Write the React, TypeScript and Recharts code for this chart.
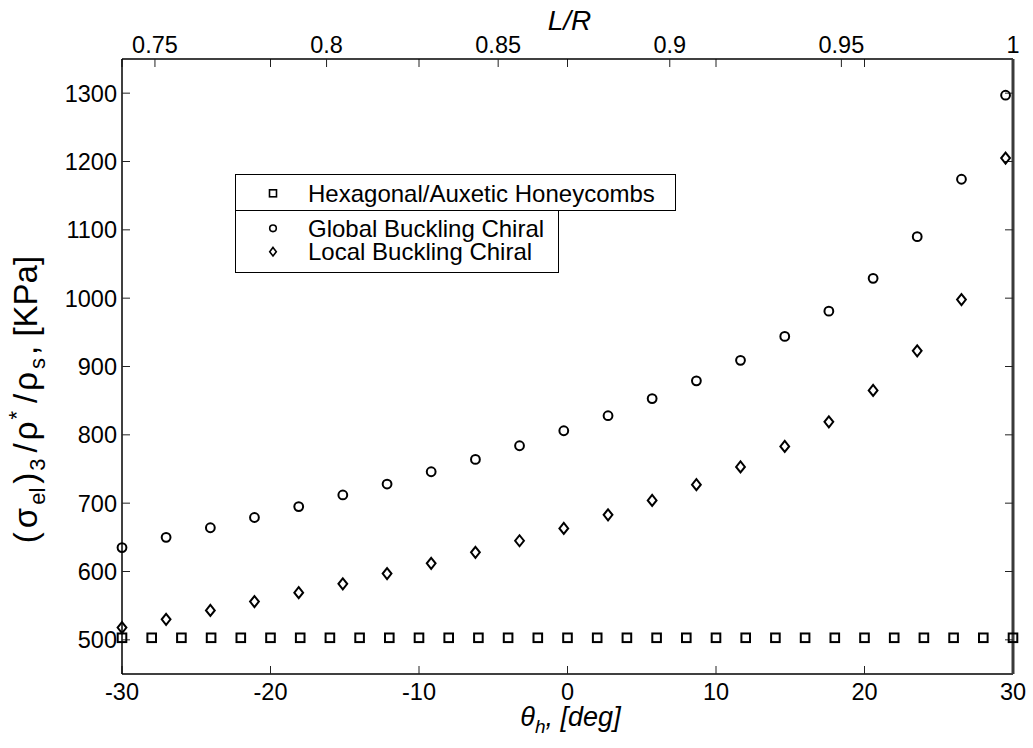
import { ScatterChart, Scatter, XAxis, YAxis, Legend } from 'recharts';

const seriesNames = ['Hexagonal/Auxetic Honeycombs', 'Global Buckling Chiral', 'Local Buckling Chiral'];

// hexagonal / auxetic honeycombs: flat line, every 2 deg
const hexTheta = [-30, -28, -26, -24, -22, -20, -18, -16, -14, -12, -10, -8, -6, -4, -2, 0, 2, 4, 6, 8, 10, 12, 14, 16, 18, 20, 22, 24, 26, 28, 30];
const hexStress = [503, 503, 503, 503, 503, 503, 503, 503, 503, 503, 503, 503, 503, 503, 503, 503, 503, 503, 503, 503, 503, 503, 503, 503, 503, 503, 503, 503, 503, 503, 503];

// chiral samples
const chiralTheta = [-30, -27.03, -24.05, -21.08, -18.1, -15.13, -12.15, -9.18, -6.2, -3.23, -0.25, 2.73, 5.7, 8.68, 11.65, 14.63, 17.6, 20.58, 23.55, 26.53, 29.5];
const globalStress = [635, 650, 664, 679, 695, 712, 728, 746, 764, 784, 806, 828, 853, 879, 909, 944, 981, 1029, 1090, 1174, 1297];
const localStress = [518, 530, 543, 556, 569, 582, 597, 612, 628, 645, 663, 683, 704, 727, 753, 783, 819, 865, 923, 998, 1205];

const thetaTicks = [-30, -20, -10, 0, 10, 20, 30];
const lrTicks = [0.75, 0.8, 0.85, 0.9, 0.95, 1];
const stressTicks = [500, 600, 700, 800, 900, 1000, 1100, 1200, 1300];

const hexData = hexTheta.map((x, i) => ({ x, y: hexStress[i] }));
const globalData = chiralTheta.map((x, i) => ({ x, y: globalStress[i] }));
const localData = chiralTheta.map((x, i) => ({ x, y: localStress[i] }));
// the secondary axes need something attached to them or they draw nothing
const lrData = lrTicks.map((x) => ({ x, y: stressTicks[0] }));

const FONT = '"Liberation Sans", Arial, sans-serif';
const tickStyle = { fill: '#000', fontSize: 23.5, fontFamily: FONT };
const noTick = () => <g />;
const noShape = () => <g />;

const Square = (p: any) => (
  <rect x={p.cx - 4.3} y={p.cy - 4.3} width={8.6} height={8.6} fill="none" stroke="#000" strokeWidth={2} />
);
const Ring = (p: any) => <circle cx={p.cx} cy={p.cy} r={4.4} fill="none" stroke="#000" strokeWidth={2} />;
const Diamond = (p: any) => (
  <polygon
    points={`${p.cx},${p.cy - 5.5} ${p.cx + 4.4},${p.cy} ${p.cx},${p.cy + 5.5} ${p.cx - 4.4},${p.cy}`}
    fill="none"
    stroke="#000"
    strokeWidth={2}
  />
);

function LegendBox() {
  const rows = [19.3, 54.3, 77.7];
  return (
    <svg width={444} height={101} style={{ display: 'block' }}>
      <rect x={0.5} y={0.5} width={440} height={36} fill="#fff" stroke="#000" />
      <rect x={0.5} y={36.5} width={323} height={62} fill="#fff" stroke="#000" />
      <rect x={34.5} y={rows[0] - 3.5} width={7} height={7} fill="none" stroke="#000" strokeWidth={1.6} />
      <circle cx={38} cy={rows[1]} r={3.3} fill="none" stroke="#000" strokeWidth={1.6} />
      <polygon points={`38,${rows[2] - 4.3} 41.3,${rows[2]} 38,${rows[2] + 4.3} 34.7,${rows[2]}`} fill="none" stroke="#000" strokeWidth={1.6} />
      {seriesNames.map((n, i) => (
        <text key={n} x={73} y={rows[i]} dominantBaseline="central" fontSize={24} fontFamily={FONT} fill="#000">
          {n}
        </text>
      ))}
    </svg>
  );
}

const yLabel = (props: any) => {
  const vb = props.viewBox;
  const cx = vb.x - 5;
  const cy = vb.y + vb.height / 2 + 33;
  return (
    <text x={cx} y={cy} transform={`rotate(-90 ${cx} ${cy})`} textAnchor="middle" fontSize={33} fontFamily={FONT} fill="#000">
      <tspan>(</tspan>
      <tspan dx={4}>σ</tspan>
      <tspan fontSize={22} dy={8} dx={3}>el</tspan>
      <tspan dy={-8} dx={4}>)</tspan>
      <tspan fontSize={22} dy={8} dx={2}>3</tspan>
      <tspan dy={-8} dx={6}>/</tspan>
      <tspan dx={3}>ρ</tspan>
      <tspan fontSize={22} dy={-13} dx={2}>*</tspan>
      <tspan dy={13} dx={8}>/</tspan>
      <tspan dx={3}>ρ</tspan>
      <tspan fontSize={22} dy={8} dx={3}>s</tspan>
      <tspan dy={-8} dx={3}>, [KPa]</tspan>
    </text>
  );
};

const xLabel = (props: any) => {
  const vb = props.viewBox;
  return (
    <text x={vb.x + vb.width / 2 + 3} y={vb.y + 52} textAnchor="middle" fontSize={27} fontStyle="italic" fontFamily={FONT} fill="#000">
      <tspan>θ</tspan>
      <tspan fontSize={19} dy={7}>h</tspan>
      <tspan dy={-7}>, [deg]</tspan>
    </text>
  );
};

const topLabel = (props: any) => {
  const vb = props.viewBox;
  return (
    <text x={vb.x + vb.width / 2 + 2} y={vb.y + 11} textAnchor="middle" fontSize={28} fontStyle="italic" fontFamily={FONT} fill="#000">
      L/R
    </text>
  );
};

export default function App() {
  return (
    <div style={{ position: 'absolute', left: 0, top: 0, fontFamily: FONT, background: '#fff' }}>
      <ScatterChart width={1033} height={748} margin={{ top: 19, right: 20, bottom: 14, left: 42 }}>
        <XAxis
          xAxisId="thetaTop"
          orientation="top"
          mirror
          type="number"
          dataKey="x"
          domain={[-30, 30]}
          ticks={thetaTicks}
          allowDataOverflow
          tick={noTick}
          axisLine={false}
          tickSize={8}
          tickLine={{ stroke: '#222', strokeWidth: 1 }}
        />
        <XAxis
          xAxisId="lr"
          orientation="top"
          type="number"
          dataKey="x"
          domain={[0.7404, 1]}
          ticks={lrTicks}
          allowDataOverflow
          height={40}
          tickSize={-8}
          tickMargin={14}
          tick={tickStyle}
          axisLine={{ stroke: '#000', strokeWidth: 1.5 }}
          tickLine={{ stroke: '#222', strokeWidth: 1 }}
          label={topLabel}
        />
        <XAxis
          xAxisId="theta"
          orientation="bottom"
          type="number"
          dataKey="x"
          domain={[-30, 30]}
          ticks={thetaTicks}
          height={60}
          tickSize={-8}
          tickMargin={17}
          tick={tickStyle}
          axisLine={{ stroke: '#000', strokeWidth: 1.5 }}
          tickLine={{ stroke: '#222', strokeWidth: 1 }}
          label={xLabel}
        />
        <YAxis
          yAxisId="y"
          orientation="left"
          type="number"
          dataKey="y"
          domain={[450, 1350]}
          ticks={stressTicks}
          width={80}
          tickSize={-8}
          tickMargin={13}
          tick={tickStyle}
          axisLine={{ stroke: '#000', strokeWidth: 1.5 }}
          tickLine={{ stroke: '#222', strokeWidth: 1 }}
          label={yLabel}
        />
        <YAxis
          yAxisId="yRight"
          orientation="right"
          mirror
          type="number"
          dataKey="y"
          domain={[450, 1350]}
          ticks={stressTicks}
          allowDataOverflow
          width={1}
          tick={noTick}
          tickSize={8}
          axisLine={{ stroke: '#3a3a3a', strokeWidth: 3 }}
          tickLine={{ stroke: '#222', strokeWidth: 1 }}
        />
        <Scatter data={hexData} xAxisId="thetaTop" yAxisId="yRight" shape={noShape} legendType="none" isAnimationActive={false} />
        <Scatter data={lrData} xAxisId="lr" yAxisId="yRight" shape={noShape} legendType="none" isAnimationActive={false} />
        <Scatter name={seriesNames[0]} data={hexData} xAxisId="theta" yAxisId="y" shape={Square} isAnimationActive={false} />
        <Scatter name={seriesNames[1]} data={globalData} xAxisId="theta" yAxisId="y" shape={Ring} isAnimationActive={false} />
        <Scatter name={seriesNames[2]} data={localData} xAxisId="theta" yAxisId="y" shape={Diamond} isAnimationActive={false} />
        <Legend
          layout="vertical"
          align="center"
          verticalAlign="middle"
          content={LegendBox}
          wrapperStyle={{ left: 235, top: 174, width: 444, height: 101 }}
        />
      </ScatterChart>
    </div>
  );
}
